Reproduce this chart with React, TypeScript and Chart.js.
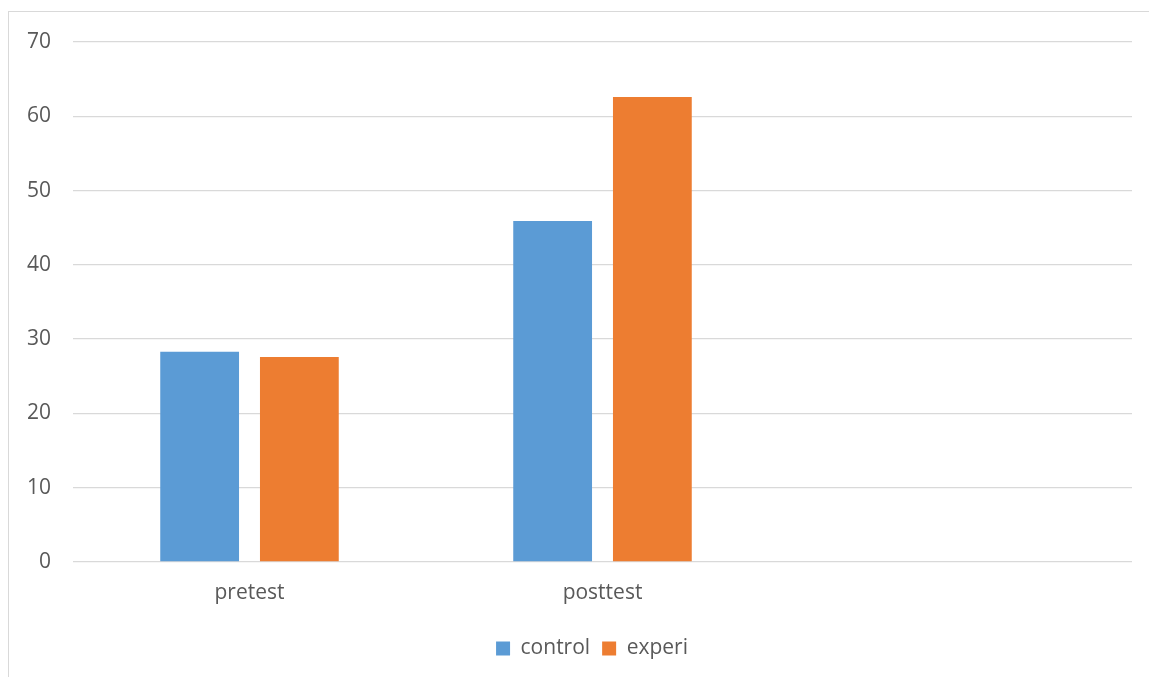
import React, { useEffect, useRef } from "react";
import { Chart, registerables } from "chart.js";

Chart.register(...registerables);

const categories = ["pretest", "posttest", ""];
const controlValues = [28.3, 45.9, null];
const experiValues = [27.6, 62.6, null];
const seriesNames = ["control", "experi"];

const shiftLegend = {
  id: "shiftLegend",
  afterLayout(chart: any) {
    const l = chart.legend;
    if (l) {
      l.left += 26;
      l.right += 26;
    }
  },
};

export default function App() {
  const ref = useRef<HTMLCanvasElement>(null);
  useEffect(() => {
    document.body.style.overflow = "hidden";
    const font = { family: "'Open Sans', sans-serif", size: 21 };
    const chart = new Chart(ref.current!, {
      type: "bar",
      data: {
        labels: categories,
        datasets: [
          {
            label: seriesNames[0],
            data: controlValues,
            backgroundColor: "#5B9BD5",
            categoryPercentage: 0.565,
            barPercentage: 0.79,
          },
          {
            label: seriesNames[1],
            data: experiValues,
            backgroundColor: "#ED7D31",
            categoryPercentage: 0.565,
            barPercentage: 0.79,
          },
        ],
      },
      plugins: [shiftLegend],
      options: {
        animation: false,
        responsive: false,
        layout: { padding: { left: 0, right: 17, top: 42, bottom: 8 } },
        plugins: {
          tooltip: { enabled: false },
          legend: {
            position: "bottom",
            labels: {
              boxWidth: 14,
              boxHeight: 14,
              padding: 12,
              color: "#595959",
              font,
            },
          },
        },
        scales: {
          x: {
            grid: { display: false, drawTicks: false },
            border: { display: false },
            ticks: { color: "#595959", font, padding: 18 },
            afterFit: (s: any) => {
              s.height = 64;
            },
          },
          y: {
            min: 0,
            max: 70,
            ticks: { stepSize: 10, color: "#595959", font, padding: 22 },
            grid: { color: "#d9d9d9", lineWidth: 1.3, drawTicks: false },
            border: { display: false },
            afterFit: (s: any) => {
              s.width = 73;
            },
          },
        },
      },
    });
    return () => chart.destroy();
  }, []);
  return (
    <>
      <div
        style={{
          position: "fixed",
          left: 8,
          top: 11,
          width: 1300,
          height: 800,
          border: "1px solid #d9d9d9",
          boxSizing: "border-box",
        }}
      />
      <canvas
        ref={ref}
        width={1149}
        height={677}
        style={{ position: "fixed", left: 0, top: 0, width: 1149, height: 677 }}
      />
    </>
  );
}
